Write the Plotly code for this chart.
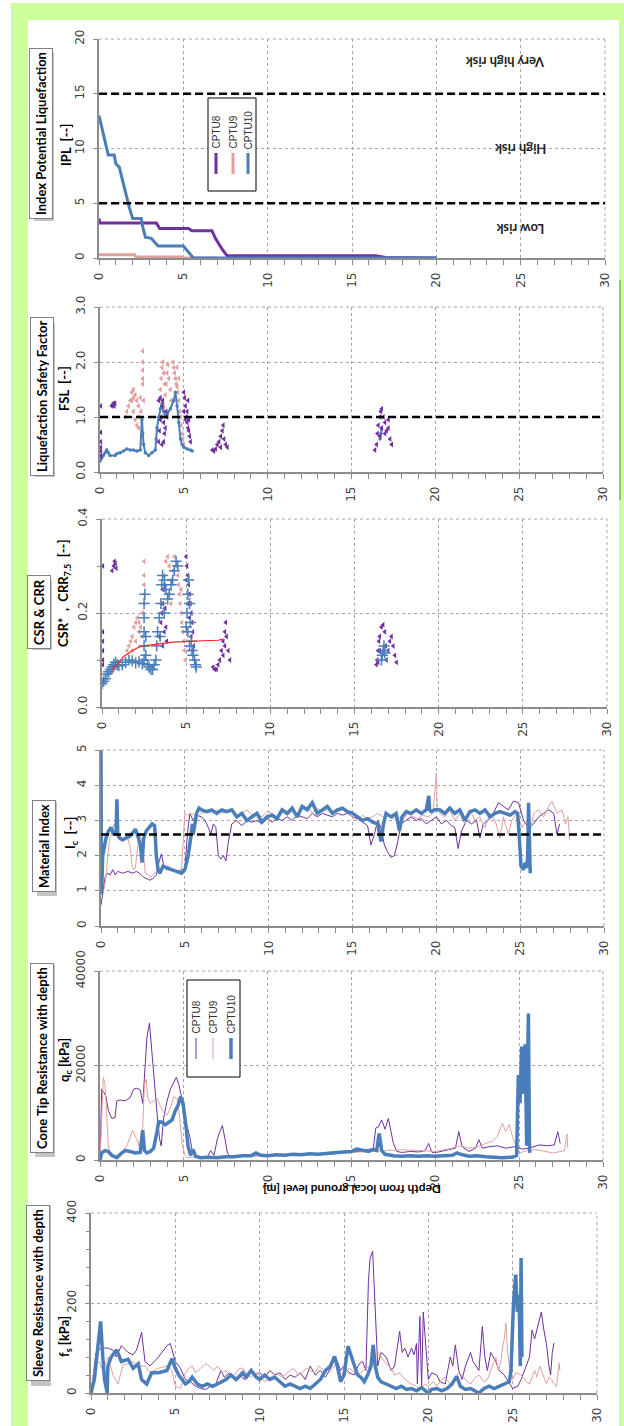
import plotly.graph_objects as go

W, H = 624, 1426
PURPLE = "#7030a0"
PINK = "#e0a09e"
BLUE = "#4a7ebb"
GRAYAX = "#8c8c8c"
GRID = "#a6a6a6"

depth_range = [0, 30]
series_names = ["CPTU8", "CPTU9", "CPTU10"]

# ---------------- IPL ----------------
ipl_cptu8 = [(0, 3.6), (0.05, 3.2), (3.4, 3.2), (3.6, 2.7), (5.3, 2.7), (5.5, 2.5), (6.7, 2.5), (6.9, 1.8),
             (7.1, 1.3), (7.3, 0.8), (7.6, 0.2), (16.4, 0.2), (17.0, 0.05), (20.0, 0.0)]
ipl_cptu9 = [(0, 0.3), (2.1, 0.3), (2.2, 0.1), (4.9, 0.1), (5.0, 0.0), (7.0, 0.0)]
ipl_cptu10 = [(0, 13.0), (0.3, 11.0), (0.55, 9.4), (0.9, 9.4), (1.0, 8.6), (1.2, 8.3), (1.4, 7.0), (1.6, 5.8),
              (1.8, 4.6), (2.0, 3.6), (2.5, 3.6), (2.6, 2.8), (2.75, 1.9), (3.1, 1.8), (3.3, 1.4), (3.5, 1.1),
              (5.0, 1.1), (5.3, 0.5), (5.6, 0.0), (20.0, 0.0)]
ipl_thresholds = [5, 15]
ipl_risk_labels = [("Low risk", 25.0, 2.7), ("High risk", 25.0, 9.9), ("Very high risk", 24.1, 17.9)]

# ---------------- FSL ----------------
fsl_cptu8 = [(0.05, 1.2), (0.05, 0.72), (0.05, 0.55), (0.05, 0.45), (0.05, 0.38), (0.05, 0.3), (0.7, 1.2),
             (0.75, 1.22), (0.8, 1.25), (0.85, 1.2), (0.9, 1.25), (3.5, 0.55), (3.55, 0.75), (3.6, 0.95),
             (3.65, 1.0), (3.7, 1.2), (3.75, 1.3), (3.8, 0.9), (3.85, 0.7), (3.9, 0.8), (3.95, 1.1), (3.6, 1.35),
             (3.5, 1.3), (4.0, 1.0), (3.7, 0.5), (3.8, 0.55), (5.0, 1.45), (5.05, 1.35), (5.1, 1.2), (5.15, 1.0),
             (5.2, 0.9), (5.25, 0.8), (5.3, 0.75), (5.35, 0.65), (5.4, 0.55), (5.0, 1.1), (5.1, 0.95), (5.2, 1.1),
             (5.3, 0.95), (5.25, 1.3), (6.7, 0.4), (6.8, 0.38), (6.9, 0.42), (7.0, 0.5), (7.1, 0.55), (7.2, 0.65),
             (7.3, 0.75), (7.35, 0.85), (7.4, 0.6), (7.5, 0.5), (7.6, 0.45), (7.2, 0.45), (16.4, 0.4), (16.5, 0.5),
             (16.55, 0.7), (16.6, 0.85), (16.7, 1.0), (16.75, 1.1), (16.8, 1.15), (16.9, 1.0), (17.0, 0.9),
             (17.1, 0.75), (17.2, 0.8), (17.3, 0.6), (17.4, 0.5), (16.7, 0.65), (16.8, 0.8), (17.0, 0.7), (17.2, 0.95)]
fsl_cptu9 = [(1.5, 1.0), (1.6, 1.1), (1.7, 1.2), (1.8, 1.3), (1.9, 1.45), (2.0, 1.5), (2.1, 1.4), (2.2, 1.3),
             (2.3, 1.2), (2.0, 1.1), (2.1, 0.95), (2.2, 0.85), (2.3, 1.0), (2.4, 1.35), (2.45, 1.1), (2.5, 0.9),
             (2.55, 2.2), (2.55, 2.0), (2.55, 1.85), (2.55, 1.7), (2.55, 1.6), (2.6, 1.3), (1.9, 1.3), (2.0, 1.35),
             (2.3, 0.8), (3.6, 1.5), (3.65, 1.7), (3.7, 1.9), (3.75, 2.0), (3.8, 1.8), (3.85, 1.6), (3.9, 1.4),
             (3.95, 1.6), (4.0, 1.8), (4.05, 1.95), (4.1, 1.7), (4.2, 1.5), (4.25, 1.3), (3.7, 1.3), (3.8, 1.2),
             (4.35, 2.0), (4.4, 1.9), (4.45, 1.8), (4.5, 1.7), (4.55, 1.6), (4.6, 1.55), (4.65, 1.45), (4.7, 1.3),
             (4.75, 1.1), (4.8, 1.0), (4.85, 0.85), (4.9, 0.7), (4.95, 0.6), (5.0, 0.5), (4.6, 1.9), (4.7, 1.7)]
fsl_cptu10 = [(0.0, 0.2), (0.1, 0.25), (0.2, 0.3), (0.3, 0.35), (0.4, 0.4), (0.5, 0.35), (0.6, 0.3), (0.9, 0.3),
              (1.0, 0.33), (1.2, 0.35), (1.4, 0.38), (1.6, 0.42), (1.8, 0.4), (2.0, 0.4), (2.2, 0.38), (2.4, 0.4),
              (2.5, 0.95), (2.55, 0.7), (2.6, 0.5), (2.7, 0.35), (2.9, 0.3), (3.1, 0.35), (3.3, 0.4), (3.35, 0.6),
              (3.4, 0.8), (3.5, 1.0), (3.6, 1.15), (3.7, 1.25), (3.8, 1.1), (3.9, 1.0), (4.0, 1.05), (4.2, 1.15),
              (4.4, 1.3), (4.5, 1.45), (4.6, 1.2), (4.7, 0.9), (4.8, 0.6), (4.9, 0.5), (5.0, 0.45), (5.2, 0.42),
              (5.4, 0.4), (5.5, 0.38), (16.7, 0.6), (16.75, 0.7), (16.8, 0.78)]
fsl_threshold = 1.0

# ---------------- CSR / CRR ----------------
crr_cptu8 = [(0.05, 0.30), (0.05, 0.16), (0.05, 0.14), (0.05, 0.12), (0.05, 0.1), (0.05, 0.09), (0.6, 0.29),
             (0.7, 0.3), (0.75, 0.31), (0.8, 0.305), (0.85, 0.295), (3.4, 0.15), (3.5, 0.18), (3.55, 0.2),
             (3.6, 0.22), (3.65, 0.25), (3.7, 0.26), (3.75, 0.21), (3.8, 0.17), (3.85, 0.14), (3.6, 0.13),
             (3.7, 0.16), (5.0, 0.32), (5.05, 0.3), (5.1, 0.28), (5.15, 0.26), (5.2, 0.24), (5.25, 0.22),
             (5.3, 0.2), (5.35, 0.18), (5.4, 0.16), (5.45, 0.13), (5.1, 0.22), (5.2, 0.19), (5.3, 0.15),
             (5.4, 0.12), (5.0, 0.27), (6.6, 0.085), (6.7, 0.08), (6.8, 0.08), (6.9, 0.09), (7.0, 0.1), (7.1, 0.12),
             (7.2, 0.14), (7.3, 0.16), (7.35, 0.18), (7.4, 0.15), (7.5, 0.12), (7.6, 0.1), (7.2, 0.11), (7.3, 0.13),
             (16.3, 0.09), (16.35, 0.1), (16.4, 0.12), (16.45, 0.14), (16.5, 0.15), (16.6, 0.17), (16.7, 0.175),
             (16.8, 0.16), (16.85, 0.13), (16.9, 0.1), (17.0, 0.12), (17.1, 0.14), (17.2, 0.15), (17.3, 0.13),
             (17.4, 0.11), (17.5, 0.095), (16.5, 0.12), (16.4, 0.095)]
crr_cptu9 = [(1.5, 0.12), (1.6, 0.13), (1.7, 0.14), (1.8, 0.15), (1.9, 0.17), (2.0, 0.18), (2.1, 0.19), (2.2, 0.18),
             (2.3, 0.17), (1.8, 0.12), (2.0, 0.14), (2.2, 0.16), (2.4, 0.2), (2.4, 0.15), (2.5, 0.22), (2.5, 0.24),
             (2.5, 0.26), (2.5, 0.28), (2.5, 0.31), (3.5, 0.22), (3.6, 0.25), (3.7, 0.28), (3.8, 0.31), (3.9, 0.32),
             (4.0, 0.3), (4.1, 0.27), (4.2, 0.29), (4.3, 0.32), (4.4, 0.3), (4.5, 0.28), (3.7, 0.21), (3.9, 0.24),
             (4.1, 0.22), (4.55, 0.26), (4.6, 0.24), (4.65, 0.22), (4.7, 0.2), (4.75, 0.18), (4.8, 0.16),
             (4.85, 0.14), (4.9, 0.12), (4.95, 0.1), (4.7, 0.25)]
crr_cptu10 = [(0.0, 0.05), (0.1, 0.055), (0.2, 0.06), (0.3, 0.07), (0.4, 0.075), (0.5, 0.08), (0.6, 0.085),
              (0.7, 0.09), (0.8, 0.095), (0.9, 0.09), (1.0, 0.088), (1.2, 0.09), (1.4, 0.095), (1.6, 0.1),
              (1.8, 0.098), (2.0, 0.094), (2.2, 0.096), (2.4, 0.092), (2.5, 0.1), (2.5, 0.13), (2.5, 0.16),
              (2.5, 0.19), (2.5, 0.22), (2.55, 0.24), (2.6, 0.15), (2.6, 0.11), (2.7, 0.09), (2.8, 0.085),
              (2.9, 0.08), (3.0, 0.08), (3.1, 0.09), (3.2, 0.1), (3.25, 0.13), (3.3, 0.16), (3.4, 0.19), (3.5, 0.22),
              (3.55, 0.26), (3.6, 0.28), (3.7, 0.27), (3.8, 0.25), (3.9, 0.23), (4.0, 0.24), (4.1, 0.26),
              (4.2, 0.27), (4.3, 0.29), (4.4, 0.31), (4.5, 0.3), (3.45, 0.15), (3.7, 0.2), (5.0, 0.17), (5.05, 0.2),
              (5.1, 0.24), (5.15, 0.27), (5.2, 0.22), (5.25, 0.18), (5.3, 0.14), (5.35, 0.12), (5.4, 0.11),
              (5.5, 0.1), (5.55, 0.09), (5.6, 0.085), (5.1, 0.16), (5.2, 0.13), (16.6, 0.1), (16.65, 0.11),
              (16.7, 0.12), (16.75, 0.13), (16.8, 0.115)]
csr_line = [(0.6, 0.078), (1.0, 0.095), (1.3, 0.108), (1.7, 0.117), (2.0, 0.124), (2.3, 0.129), (2.8, 0.132),
            (3.5, 0.135), (4.2, 0.138), (5.0, 0.140), (6.0, 0.141), (6.9, 0.142), (7.2, 0.145)]

# ---------------- Ic ----------------
ic_cptu8_d = [0, 0.1, 0.25, 0.4, 0.55, 0.7, 0.85, 1.0, 1.3, 1.6, 1.9, 2.1, 2.3, 2.5, 2.7, 2.9, 3.1, 3.3, 3.45, 3.6,
              3.75, 3.9, 4.2, 4.5, 4.8, 5.0, 5.15, 5.3, 5.5, 5.7, 6.0, 6.2, 6.4, 6.55, 6.7, 6.85, 7.0, 7.15, 7.3,
              7.45, 7.6, 7.8, 8.1, 8.4, 8.7, 9.0, 9.3, 9.6, 9.9, 10.2, 10.5, 10.8, 11.1, 11.4, 11.7, 12.0, 12.3,
              12.6, 12.9, 13.2, 13.5, 13.8, 14.1, 14.4, 14.7, 15.0, 15.3, 15.6, 15.9, 16.1, 16.3, 16.5, 16.7, 16.9,
              17.1, 17.3, 17.5, 17.7, 17.9, 18.2, 18.5, 18.8, 19.1, 19.4, 19.7, 20.0, 20.3, 20.6, 20.9, 21.1, 21.3,
              21.5, 21.8, 22.1, 22.4, 22.6, 22.8, 23.1, 23.4, 23.7, 24.0, 24.3, 24.6, 24.9, 25.2, 25.5, 25.8, 26.1,
              26.4, 26.7, 27.0, 27.2, 27.35]
ic_cptu8_v = [0.6, 0.9, 1.4, 1.5, 1.45, 1.6, 1.45, 1.55, 1.5, 1.55, 1.5, 1.55, 1.5, 1.4, 1.35, 1.3, 1.35, 1.45, 1.8,
              2.05, 1.7, 1.6, 1.6, 1.55, 1.6, 1.6, 2.6, 3.2, 3.0, 3.15, 3.1, 3.0, 2.8, 2.6, 2.9, 2.8, 2.0, 1.9, 2.0,
              1.85, 2.4, 2.9, 3.0, 2.85, 3.0, 2.95, 3.0, 2.9, 3.05, 2.95, 3.05, 3.0, 3.1, 3.0, 3.15, 3.1, 3.05, 3.2,
              3.1, 3.2, 3.15, 3.1, 3.2, 3.15, 3.2, 3.1, 3.05, 2.95, 2.85, 2.3, 2.6, 3.0, 2.8, 2.3, 2.1, 1.95, 2.0,
              2.4, 2.9, 3.0, 3.1, 3.0, 3.05, 2.9, 3.0, 3.1, 2.9, 3.0, 2.85, 2.8, 2.2, 2.7, 3.0, 2.9, 3.0, 2.5, 2.9,
              3.0, 3.2, 3.5, 3.4, 3.3, 3.55, 3.5, 3.0, 2.8, 2.9, 3.1, 3.2, 3.3, 3.2, 2.6, 2.9]
ic_cptu9_d = [0, 0.1, 0.2, 0.3, 0.4, 0.5, 0.65, 0.8, 0.9, 1.0, 1.2, 1.4, 1.6, 1.75, 1.85, 1.95, 2.05, 2.2, 2.3, 2.45,
              2.55, 2.65, 2.8, 3.0, 3.2, 3.4, 3.6, 3.8, 4.0, 4.3, 4.6, 4.8, 4.9, 5.0, 5.2, 5.4, 5.7, 6.0, 6.3, 6.6,
              6.9, 7.2, 7.5, 7.8, 8.1, 8.4, 8.7, 9.0, 9.3, 9.6, 9.9, 10.2, 10.5, 10.8, 11.1, 11.4, 11.7, 12.0, 12.3,
              12.6, 12.9, 13.2, 13.5, 13.8, 14.1, 14.4, 14.7, 15.0, 15.3, 15.6, 15.9, 16.2, 16.5, 16.8, 17.1, 17.4,
              17.7, 18.0, 18.3, 18.6, 18.9, 19.2, 19.5, 19.8, 19.9, 20.0, 20.05, 20.2, 20.5, 20.8, 21.1, 21.4, 21.7,
              22.0, 22.3, 22.6, 22.9, 23.2, 23.5, 23.8, 24.0, 24.3, 24.5, 24.8, 25.1, 25.4, 25.6, 25.8, 26.1, 26.4,
              26.7, 26.9, 27.2, 27.5, 27.7, 27.85, 27.95]
ic_cptu9_v = [1.0, 0.9, 1.1, 1.4, 2.0, 2.4, 2.7, 2.9, 2.7, 2.5, 2.4, 2.45, 2.5, 2.2, 1.75, 1.6, 1.65, 2.3, 2.6, 2.4,
              1.9, 1.5, 1.45, 1.4, 1.5, 1.55, 1.6, 1.65, 1.7, 1.6, 1.55, 1.6, 2.5, 3.2, 3.15, 3.2, 3.1, 3.2, 3.25,
              3.2, 3.3, 3.2, 3.25, 3.3, 3.1, 3.2, 3.3, 3.15, 3.2, 3.1, 3.25, 3.2, 3.1, 3.3, 3.15, 3.25, 3.2, 3.3,
              3.4, 3.2, 3.35, 3.25, 3.3, 3.2, 3.25, 3.3, 3.2, 3.1, 3.0, 3.15, 3.05, 3.1, 3.2, 3.1, 3.15, 3.05, 3.1,
              3.0, 3.2, 3.1, 3.05, 3.15, 3.1, 3.2, 3.8, 4.35, 3.4, 3.2, 3.1, 3.3, 3.0, 3.2, 2.9, 3.3, 3.0, 3.1, 2.8,
              3.2, 3.0, 2.5, 3.1, 2.6, 3.0, 3.2, 2.8, 3.0, 2.7, 3.2, 3.3, 3.1, 3.4, 3.55, 3.2, 3.3, 2.9, 3.1, 2.45]
ic_cptu10_d = [0, 0.02, 0.04, 0.1, 0.2, 0.3, 0.45, 0.6, 0.75, 0.9, 0.95, 1.0, 1.1, 1.3, 1.5, 1.7, 1.9, 2.05, 2.2,
               2.35, 2.45, 2.55, 2.7, 2.9, 3.05, 3.2, 3.3, 3.4, 3.5, 3.7, 3.9, 4.2, 4.5, 4.8, 5.0, 5.2, 5.35, 5.45,
               5.5, 5.6, 5.7, 5.85, 6.0, 6.3, 6.6, 6.9, 7.2, 7.5, 7.8, 8.1, 8.4, 8.7, 9.0, 9.3, 9.6, 9.9, 10.2,
               10.5, 10.8, 11.1, 11.4, 11.7, 12.0, 12.3, 12.6, 12.9, 13.2, 13.5, 13.8, 14.1, 14.4, 14.7, 15.0, 15.3,
               15.6, 15.9, 16.2, 16.5, 16.7, 16.85, 17.0, 17.3, 17.6, 17.8, 17.95, 18.2, 18.5, 18.8, 19.1, 19.4,
               19.55, 19.6, 19.7, 19.9, 20.2, 20.5, 20.8, 21.1, 21.4, 21.7, 22.0, 22.3, 22.6, 22.9, 23.2, 23.5, 23.8,
               24.1, 24.4, 24.7, 24.85, 24.95, 25.05, 25.2, 25.3, 25.4, 25.45, 25.5, 25.55, 25.6]
ic_cptu10_v = [5.0, 0.9, 1.0, 2.0, 2.3, 2.5, 2.7, 2.8, 2.6, 2.7, 3.6, 2.6, 2.5, 2.45, 2.5, 2.55, 2.65, 2.75, 2.55,
               2.3, 1.8, 2.5, 2.7, 2.8, 2.9, 2.85, 2.0, 1.6, 1.5, 1.7, 1.65, 1.6, 1.55, 1.5, 1.6, 2.0, 2.5, 2.9,
               2.6, 3.0, 3.2, 3.35, 3.3, 3.25, 3.3, 3.2, 3.3, 3.25, 3.3, 3.1, 3.2, 3.0, 3.1, 3.2, 2.95, 3.1, 3.15,
               3.05, 3.3, 3.2, 3.35, 3.1, 3.4, 3.3, 3.5, 3.2, 3.3, 3.4, 3.2, 3.3, 3.35, 3.25, 3.2, 3.1, 3.0, 3.05,
               2.95, 2.9, 2.4, 2.9, 3.2, 3.1, 3.2, 2.7, 3.1, 3.25, 3.2, 3.3, 3.2, 3.3, 3.7, 3.3, 3.25, 3.3, 3.3,
               3.2, 3.35, 3.2, 3.3, 3.0, 3.25, 3.3, 3.2, 3.3, 3.1, 3.2, 3.25, 3.2, 3.15, 3.25, 3.2, 2.5, 1.7, 1.6,
               1.8, 1.65, 2.0, 3.5, 1.7, 1.5]
ic_threshold = 2.6

# ---------------- qc ----------------
qc_cptu8_d = [0, 0.1, 0.2, 0.35, 0.5, 0.7, 0.9, 1.0, 1.2, 1.5, 1.8, 2.0, 2.2, 2.4, 2.55, 2.65, 2.8, 2.95, 3.1, 3.25,
              3.4, 3.55, 3.65, 3.8, 4.0, 4.2, 4.4, 4.55, 4.7, 4.85, 5.0, 5.2, 5.35, 5.5, 5.7, 6.0, 6.4, 6.6, 6.8,
              7.0, 7.15, 7.3, 7.45, 7.6, 7.8, 8.2, 8.8, 9.4, 10.0, 10.6, 11.2, 11.8, 12.4, 13.0, 13.6, 14.2, 14.8,
              15.4, 16.0, 16.3, 16.45, 16.6, 16.8, 17.0, 17.2, 17.35, 17.5, 17.7, 18.0, 18.5, 19.0, 19.4, 19.6,
              19.8, 20.2, 20.8, 21.2, 21.4, 21.6, 22.0, 22.4, 22.6, 22.8, 23.2, 23.7, 24.2, 24.7, 25.2, 25.7, 26.2,
              26.7, 27.1, 27.3, 27.45]
qc_cptu8_v = [0, 15000, 14500, 13500, 10500, 8800, 9000, 12500, 12700, 12500, 13200, 15000, 15200, 14800, 12000,
              17000, 26000, 29000, 22000, 15000, 10000, 4500, 3000, 9000, 12500, 15000, 16500, 17500, 16000, 13500,
              9000, 7000, 5000, 2000, 800, 400, 600, 2000, 1000, 4500, 6000, 7300, 4500, 1500, 600, 700, 800, 900,
              900, 1000, 1100, 1000, 1200, 1300, 1200, 1400, 1600, 1800, 2200, 2500, 6800, 7000, 8500, 6500, 8800,
              6000, 3500, 1800, 1600, 1800, 1700, 2000, 3500, 1600, 1700, 2200, 2500, 6000, 2800, 1800, 2500, 4300,
              2500, 2800, 3000, 2500, 2800, 2300, 2600, 3200, 3000, 3200, 6000, 3500]
qc_cptu9_d = [0, 0.1, 0.2, 0.3, 0.4, 0.5, 0.6, 0.8, 1.0, 1.3, 1.6, 1.8, 1.95, 2.1, 2.25, 2.35, 2.45, 2.55, 2.65, 2.75,
              2.85, 3.0, 3.2, 3.4, 3.6, 3.8, 4.0, 4.2, 4.4, 4.6, 4.75, 4.9, 5.05, 5.2, 5.5, 6.0, 7.0, 8.0, 9.0, 10.0,
              11.0, 12.0, 13.0, 14.0, 15.0, 16.0, 17.0, 18.0, 19.0, 20.0, 21.0, 21.5, 22.0, 22.5, 23.0, 23.4, 23.7,
              24.0, 24.2, 24.4, 24.6, 24.8, 25.0, 25.5, 26.0, 26.5, 27.0, 27.5, 27.7, 27.85, 27.9]
qc_cptu9_v = [0, 9000, 17500, 16000, 9000, 3000, 1000, 500, 800, 1500, 3000, 5000, 6300, 5000, 4000, 2500, 5500,
              7000, 16000, 17100, 13000, 12000, 12500, 13000, 11500, 10000, 9500, 11000, 13400, 13000, 9000, 3500,
              1200, 500, 600, 700, 800, 900, 1000, 1000, 1100, 1200, 1300, 1500, 1600, 1800, 2000, 2200, 2000, 1800,
              2500, 3000, 2500, 2800, 3500, 4000, 5000, 7800, 6000, 7500, 5000, 3000, 1500, 2000, 2200, 1800, 1500,
              1800, 2000, 5500, 2500]
qc_cptu10_d = [0, 0.1, 0.3, 0.5, 0.7, 1.0, 1.3, 1.5, 1.8, 2.1, 2.4, 2.55, 2.65, 2.8, 3.0, 3.2, 3.4, 3.5, 3.7, 3.9,
               4.1, 4.3, 4.5, 4.65, 4.8, 4.95, 5.1, 5.25, 5.4, 5.55, 5.7, 6.0, 6.5, 7.0, 7.5, 8.0, 8.5, 9.0, 9.3,
               9.6, 10.0, 10.5, 11.0, 11.5, 12.0, 12.5, 13.0, 13.5, 14.0, 14.5, 15.0, 15.3, 15.5, 15.8, 16.0, 16.3,
               16.5, 16.65, 16.8, 17.0, 17.3, 17.5, 18.0, 18.5, 19.0, 19.5, 20.0, 20.5, 21.0, 21.3, 21.5, 22.0,
               22.5, 23.0, 23.5, 24.0, 24.6, 24.85, 24.95, 25.05, 25.15, 25.25, 25.35, 25.45, 25.5, 25.55, 25.62,
               25.65]
qc_cptu10_v = [0, 1500, 2000, 1800, 1000, 500, 1500, 2000, 1800, 1500, 1600, 6300, 2000, 1500, 1800, 2500, 6000,
               8100, 8000, 7500, 8000, 8500, 10500, 11500, 13400, 12000, 8000, 3000, 1000, 2200, 800, 500, 600, 500,
               700, 700, 900, 900, 1500, 1000, 900, 1100, 1000, 1200, 1100, 1300, 1200, 1400, 1500, 1700, 1800, 2300,
               2200, 1900, 1800, 2200, 2000, 5600, 2000, 1200, 1000, 900, 800, 900, 800, 900, 800, 900, 1000, 1500,
               1200, 800, 900, 700, 600, 500, 600, 1000, 18000, 12000, 24000, 14000, 24500, 3000, 20000, 31000,
               2000, 1500]

# ---------------- fs ----------------
fs_cptu8 = [(0, 0), (0.15, 40), (0.3, 90), (0.6, 100), (1.0, 100), (1.3, 95), (1.5, 80), (1.8, 105), (2.2, 90),
            (2.5, 85), (2.7, 95), (3.0, 135), (3.2, 70), (3.5, 60), (4.0, 80), (4.5, 105), (4.7, 110), (5.0, 70),
            (5.3, 55), (5.6, 30), (5.9, 25), (6.2, 15), (6.5, 10), (6.8, 8), (7.1, 15), (7.4, 20), (7.7, 50),
            (7.9, 35), (8.2, 45), (8.5, 30), (8.8, 40), (9.1, 30), (9.4, 50), (9.7, 40), (10.0, 45), (10.3, 35),
            (10.6, 50), (10.9, 40), (11.2, 45), (11.5, 30), (11.8, 40), (12.1, 35), (12.4, 45), (12.7, 30),
            (13.0, 60), (13.3, 40), (13.6, 50), (13.9, 35), (14.2, 55), (14.5, 80), (14.8, 50), (15.0, 60),
            (15.3, 45), (15.6, 40), (15.9, 65), (16.1, 70), (16.3, 50), (16.45, 250), (16.55, 300), (16.7, 315),
            (16.85, 180), (17.0, 60), (17.2, 90), (17.5, 80), (17.8, 50), (18.0, 60), (18.3, 137), (18.45, 90),
            (18.6, 100), (18.8, 80), (19.0, 100), (19.15, 85), (19.3, 110), (19.35, 20), (19.5, 170), (19.6, 10),
            (19.7, 180), (19.8, 130), (20.0, 30), (20.2, 45), (20.5, 40), (20.7, 25), (21.0, 20), (21.15, 50),
            (21.3, 80), (21.45, 60), (21.6, 107), (21.8, 50), (22.0, 30), (22.2, 60), (22.5, 90), (22.65, 70),
            (22.8, 60), (23.0, 50), (23.2, 148), (23.35, 80), (23.5, 50), (23.7, 90), (24.0, 70), (24.2, 50),
            (24.5, 40), (24.8, 20), (25.0, 10), (25.3, 15), (25.5, 30), (25.8, 60), (26.0, 80), (26.15, 140),
            (26.3, 120), (26.5, 150), (26.7, 180), (26.85, 140), (27.0, 110), (27.15, 60), (27.25, 40), (27.35, 90),
            (27.45, 111)]
fs_cptu9 = [(0, 0), (0.2, 60), (0.5, 70), (0.7, 50), (1.0, 80), (1.3, 40), (1.6, 20), (1.9, 63), (2.2, 65),
            (2.5, 70), (2.8, 60), (3.2, 60), (3.5, 45), (4.0, 55), (4.5, 60), (4.8, 50), (5.0, 15), (5.3, 10),
            (5.6, 45), (5.8, 55), (6.0, 60), (6.2, 45), (6.5, 55), (6.8, 65), (7.0, 60), (7.3, 50), (7.5, 60),
            (7.8, 45), (8.0, 50), (8.3, 35), (8.5, 40), (8.8, 55), (9.0, 55), (9.3, 40), (9.5, 35), (9.8, 45),
            (10.0, 40), (10.3, 25), (10.5, 30), (10.8, 40), (11.0, 45), (11.3, 35), (11.5, 40), (11.8, 50),
            (12.0, 55), (12.3, 40), (12.5, 45), (12.8, 55), (13.0, 50), (13.3, 45), (13.5, 60), (13.8, 50),
            (14.0, 40), (14.3, 55), (14.5, 60), (14.8, 45), (15.0, 40), (15.3, 55), (15.5, 50), (15.8, 40),
            (16.0, 45), (16.3, 55), (16.5, 60), (16.8, 75), (17.0, 92), (17.2, 80), (17.5, 65), (17.8, 55),
            (18.0, 40), (18.3, 45), (18.5, 35), (18.8, 25), (19.0, 20), (19.3, 15), (19.5, 10), (19.8, 20),
            (20.0, 15), (20.3, 25), (20.5, 15), (20.8, 30), (21.0, 35), (21.3, 20), (21.5, 25), (21.8, 45),
            (22.0, 40), (22.3, 25), (22.5, 20), (22.8, 35), (23.0, 40), (23.3, 25), (23.5, 30), (23.8, 60),
            (24.0, 80), (24.15, 50), (24.3, 70), (24.4, 100), (24.5, 120), (24.6, 155), (24.7, 90), (24.8, 60),
            (25.0, 30), (25.2, 45), (25.5, 40), (25.8, 25), (26.0, 20), (26.3, 50), (26.45, 35), (26.6, 60),
            (26.8, 40), (27.0, 20), (27.15, 35), (27.3, 30), (27.45, 20), (27.6, 15), (27.75, 67), (27.8, 50)]
fs_cptu10 = [(0, 0), (0.2, 30), (0.4, 100), (0.57, 159), (0.7, 80), (0.8, 30), (0.96, 0), (1.0, 60), (1.2, 80),
             (1.52, 96), (1.8, 70), (2.2, 75), (2.5, 55), (2.8, 65), (3.0, 30), (3.3, 20), (3.6, 45), (4.0, 45),
             (4.5, 50), (4.8, 76), (5.0, 55), (5.2, 40), (5.4, 30), (5.6, 20), (5.8, 25), (6.0, 35), (6.3, 20),
             (6.6, 15), (6.9, 20), (7.2, 15), (7.5, 20), (7.8, 25), (8.0, 30), (8.3, 40), (8.6, 30), (9.0, 45),
             (9.2, 35), (9.5, 50), (9.8, 35), (10.0, 30), (10.3, 40), (10.6, 30), (10.9, 35), (11.2, 25),
             (11.5, 15), (11.8, 20), (12.1, 15), (12.4, 10), (12.7, 15), (13.0, 10), (13.3, 20), (13.6, 30),
             (13.9, 50), (14.2, 60), (14.44, 81), (14.6, 60), (14.8, 25), (15.0, 40), (15.24, 104), (15.4, 85),
             (15.6, 60), (15.8, 40), (16.0, 35), (16.2, 25), (16.4, 40), (16.6, 60), (16.73, 107), (16.85, 60),
             (17.0, 35), (17.2, 25), (17.5, 20), (17.8, 15), (18.1, 10), (18.4, 15), (18.7, 8), (19.0, 10),
             (19.3, 5), (19.6, 12), (19.9, 2), (20.0, 0), (20.2, 8), (20.5, 10), (20.8, 5), (21.1, 10), (21.4, 20),
             (21.68, 37), (21.9, 15), (22.2, 8), (22.5, 10), (22.8, 5), (23.0, 0), (23.3, 10), (23.6, 15),
             (23.9, 10), (24.2, 15), (24.5, 20), (24.8, 25), (24.9, 50), (25.05, 200), (25.18, 263), (25.28, 180),
             (25.38, 218), (25.45, 60), (25.5, 300), (25.55, 80)]


def unzip(pairs, gap=None):
    xs, ys = [], []
    for i, (a, b) in enumerate(pairs):
        if gap is not None and i > 0 and a - pairs[i - 1][0] > gap:
            xs.append(None)
            ys.append(None)
        xs.append(a)
        ys.append(b)
    return xs, ys


def P(x, y):
    return x / W, 1 - y / H


fig = go.Figure()

panels = [(99, 605, 39, 258), (100, 603, 307, 472), (102, 607, 519, 707),
          (101, 604, 750, 926), (100, 603, 971, 1160), (91, 597, 1213, 1393)]

TF = dict(family="DejaVu Sans", size=12, color="#404040")
yconf = [
    dict(range=[0, 20], dtick=5, tick0=0),
    dict(range=[0, 3], dtick=1, tick0=0, tickformat=".1f"),
    dict(range=[0, 0.4], dtick=0.2, tick0=0, tickformat=".1f",
         minor=dict(dtick=0.1, ticks="outside", ticklen=3, tickcolor=GRAYAX, showgrid=False)),
    dict(range=[0, 5], dtick=1, tick0=0),
    dict(range=[0, 40000], dtick=20000, tick0=0, tickformat="d"),
    dict(range=[0, 400], dtick=200, tick0=0,
         minor=dict(dtick=40, ticks="outside", ticklen=3, tickcolor=GRAYAX, showgrid=False)),
]

layout = dict(template="none", width=W, height=H,
              margin=dict(l=0, r=0, t=0, b=0, pad=0, autoexpand=False),
              paper_bgcolor="white", plot_bgcolor="white", showlegend=False)
shapes = []
annotations = []

shapes.append(dict(type="rect", xref="paper", yref="paper", x0=P(11, 0)[0], x1=1.0, y0=0, y1=P(0, 3)[1],
                   fillcolor="#ccff99", line=dict(width=0), layer="below"))
shapes.append(dict(type="rect", xref="paper", yref="paper", x0=P(28, 0)[0], x1=P(619, 0)[0], y0=0,
                   y1=P(0, 20)[1], fillcolor="white", line=dict(width=0), layer="below"))
shapes.append(dict(type="line", xref="paper", yref="paper", x0=P(620, 0)[0], x1=P(620, 0)[0], y0=P(0, 500)[1],
                   y1=P(0, 280)[1], line=dict(color="#8fcf60", width=2), layer="below"))

for i, (x0, x1, yt, yb) in enumerate(panels):
    n = "" if i == 0 else str(i + 1)
    layout["xaxis" + n] = dict(
        domain=[x0 / W, x1 / W], anchor="y" + n, range=depth_range, dtick=5, tick0=0, automargin=False,
        ticks="outside", ticklen=5, tickcolor=GRAYAX, tickwidth=1,
        minor=dict(dtick=1, ticks="outside", ticklen=5, tickcolor=GRAYAX, showgrid=False),
        showline=True, linecolor=GRAYAX, linewidth=1.5, showgrid=True, gridcolor=GRID,
        griddash="3px,3px", gridwidth=1, tickangle=-90, tickfont=TF, zeroline=False,
        ticklabelstandoff=3)
    yc = dict(domain=[1 - yb / H, 1 - yt / H], anchor="x" + n, ticks="outside", ticklen=4, automargin=False,
              tickcolor=GRAYAX, showline=True, linecolor=GRAYAX, linewidth=1.5, showgrid=True,
              gridcolor=GRID, griddash="3px,3px", gridwidth=1, tickangle=-90, tickfont=TF,
              zeroline=False, ticklabelstandoff=4)
    yc.update(yconf[i])
    layout["yaxis" + n] = yc
    xr = "x" + n + " domain"
    yr = "y" + n + " domain"
    shapes.append(dict(type="line", xref=xr, yref=yr, x0=0, x1=1, y0=1, y1=1,
                       line=dict(color=GRID, width=1, dash="3px,3px")))
    shapes.append(dict(type="line", xref=xr, yref=yr, x0=1, x1=1, y0=0, y1=1,
                       line=dict(color=GRID, width=1, dash="3px,3px")))


def line_trace(d, v, color, width, ax):
    return go.Scatter(x=d, y=v, mode="lines", line=dict(color=color, width=width), xaxis="x" + ax,
                      yaxis="y" + ax, hoverinfo="skip")


for pairs, col in [(ipl_cptu8, PURPLE), (ipl_cptu9, PINK), (ipl_cptu10, BLUE)]:
    d, v = unzip(pairs)
    fig.add_trace(line_trace(d, v, col, 3, ""))

d, v = unzip(fsl_cptu9)
fig.add_trace(go.Scatter(x=d, y=v, mode="markers", marker=dict(symbol="triangle-left", size=5, color=PINK),
                         xaxis="x2", yaxis="y2"))
d, v = unzip(fsl_cptu10, gap=3)
fig.add_trace(go.Scatter(x=d, y=v, mode="markers+lines", line=dict(color=BLUE, width=2),
                         marker=dict(symbol="circle", size=3.5, color=BLUE), connectgaps=False,
                         xaxis="x2", yaxis="y2"))
d, v = unzip(fsl_cptu8)
fig.add_trace(go.Scatter(x=d, y=v, mode="markers", marker=dict(symbol="triangle-left", size=5, color=PURPLE),
                         xaxis="x2", yaxis="y2"))

d, v = unzip(crr_cptu9)
fig.add_trace(go.Scatter(x=d, y=v, mode="markers", marker=dict(symbol="triangle-left", size=5, color=PINK),
                         xaxis="x3", yaxis="y3"))
d, v = unzip(crr_cptu8)
fig.add_trace(go.Scatter(x=d, y=v, mode="markers", marker=dict(symbol="triangle-left", size=5, color=PURPLE),
                         xaxis="x3", yaxis="y3"))
d, v = unzip(crr_cptu10)
fig.add_trace(go.Scatter(x=d, y=v, mode="markers",
                         marker=dict(symbol="cross-thin", size=8, line=dict(color=BLUE, width=1.5)),
                         xaxis="x3", yaxis="y3"))
d, v = unzip(csr_line)
fig.add_trace(line_trace(d, v, "#ff2020", 1.2, "3"))

fig.add_trace(line_trace(ic_cptu8_d, ic_cptu8_v, PURPLE, 1, "4"))
fig.add_trace(line_trace(ic_cptu9_d, ic_cptu9_v, PINK, 1, "4"))
fig.add_trace(line_trace(ic_cptu10_d, ic_cptu10_v, BLUE, 3.5, "4"))

fig.add_trace(line_trace(qc_cptu8_d, qc_cptu8_v, PURPLE, 1, "5"))
fig.add_trace(line_trace(qc_cptu9_d, qc_cptu9_v, PINK, 1, "5"))
fig.add_trace(line_trace(qc_cptu10_d, qc_cptu10_v, BLUE, 3.5, "5"))

for pairs, col, wd in [(fs_cptu8, PURPLE, 1), (fs_cptu9, PINK, 1), (fs_cptu10, BLUE, 3.5)]:
    d, v = unzip(pairs)
    fig.add_trace(line_trace(d, v, col, wd, "6"))

DASHK = dict(color="black", width=2.5, dash="8px,4px")
for t in ipl_thresholds:
    shapes.append(dict(type="line", xref="x domain", yref="y", x0=0, x1=1, y0=t, y1=t, line=DASHK))
shapes.append(dict(type="line", xref="x2 domain", yref="y2", x0=0, x1=1, y0=fsl_threshold, y1=fsl_threshold,
                   line=DASHK))
shapes.append(dict(type="line", xref="x4 domain", yref="y4", x0=0, x1=1, y0=ic_threshold, y1=ic_threshold,
                   line=DASHK))

CM = dict(xanchor="center", yanchor="middle", showarrow=False)

for txt, xv, yv in ipl_risk_labels:
    annotations.append(dict(x=xv, y=yv, xref="x", yref="y", text="<b>" + txt + "</b>", textangle=180,
                            font=dict(family="Lato", size=13, color="#222222"), **CM))

TITLEF = dict(family="Lato", size=13, color="black")
# title boxes: text, centre px, and box extent (x0, x1, y0, y1) for the drop shadow
titles = [("Index Potential Liquefaction", 41, 134, (31, 51, 50, 218)),
          ("Liquefaction Safety Factor", 42, 397, (32, 52, 320, 474)),
          ("CSR &amp; CRR", 39, 612, (29, 49, 577, 647)),
          ("Material Index", 44, 846, (34, 54, 799, 893)),
          ("Cone Tip Resistance with depth", 42, 1058, (32, 52, 962, 1154)),
          ("Sleeve Resistance with depth", 38, 1293, (28, 48, 1203, 1383))]
for txt, px, py, (sx0, sx1, sy0, sy1) in titles:
    shapes.append(dict(type="rect", xref="paper", yref="paper", x0=P(sx0 + 3, 0)[0], x1=P(sx1 + 3, 0)[0],
                       y0=P(0, sy1 + 3)[1], y1=P(0, sy0 + 3)[1], fillcolor="#c4c4c4", line=dict(width=0)))
    x, y = P(px, py)
    annotations.append(dict(x=x, y=y, xref="paper", yref="paper", text="<b>" + txt + "</b>",
                            textangle=-90, font=TITLEF, bgcolor="white", bordercolor="#808080",
                            borderwidth=1, borderpad=3, **CM))

ytitles = [("IPL  [--]", 66, 145), ("FSL  [--]", 64, 389), ("CSR*  ,  CRR<sub>7.5</sub>  [--]", 64, 593),
           ("I<sub>c</sub>  [--]", 71, 833), ("q<sub>c</sub> [kPa]", 65, 1060), ("f<sub>s</sub> [kPa]", 65, 1337)]
for txt, px, py in ytitles:
    x, y = P(px, py)
    annotations.append(dict(x=x, y=y, xref="paper", yref="paper", text="<b>" + txt + "</b>",
                            textangle=-90, font=TITLEF, **CM))

x, y = P(352, 1190)
annotations.append(dict(x=x, y=y, xref="paper", yref="paper", text="<b>Depth from local ground level [m]</b>",
                        textangle=180, font=dict(family="Lato", size=12, color="black"), **CM))


def legend(box, items, widths):
    bx0, bx1, by0, by1 = box
    shapes.append(dict(type="rect", xref="paper", yref="paper", x0=P(bx0, 0)[0], x1=P(bx1, 0)[0],
                       y0=P(0, by1)[1], y1=P(0, by0)[1], line=dict(color="black", width=1), fillcolor="white"))
    for (name, col, px, ly0, ly1, ty), wd in zip(items, widths):
        shapes.append(dict(type="line", xref="paper", yref="paper", x0=P(px, 0)[0], x1=P(px, 0)[0],
                           y0=P(0, ly1)[1], y1=P(0, ly0)[1], line=dict(color=col, width=wd)))
        x, y = P(px, ty)
        annotations.append(dict(x=x, y=y, xref="paper", yref="paper", text=name, showarrow=False,
                                textangle=-90, yanchor="bottom", xanchor="center",
                                font=dict(family="Liberation Sans", size=10, color="#333333")))


legend((208, 256, 98, 191),
       [(series_names[0], PURPLE, 216, 153, 174, 151), (series_names[1], PINK, 233, 153, 174, 151),
        (series_names[2], BLUE, 248, 153, 174, 151)], [3, 3, 3])
legend((187, 240, 980, 1077),
       [(series_names[0], PURPLE, 196, 1038, 1059, 1036), (series_names[1], PINK, 213, 1038, 1059, 1036),
        (series_names[2], BLUE, 231, 1038, 1059, 1036)], [1, 1, 3.5])

layout["shapes"] = shapes
layout["annotations"] = annotations
fig.update_layout(**layout)
fig.write_html("out.html")
